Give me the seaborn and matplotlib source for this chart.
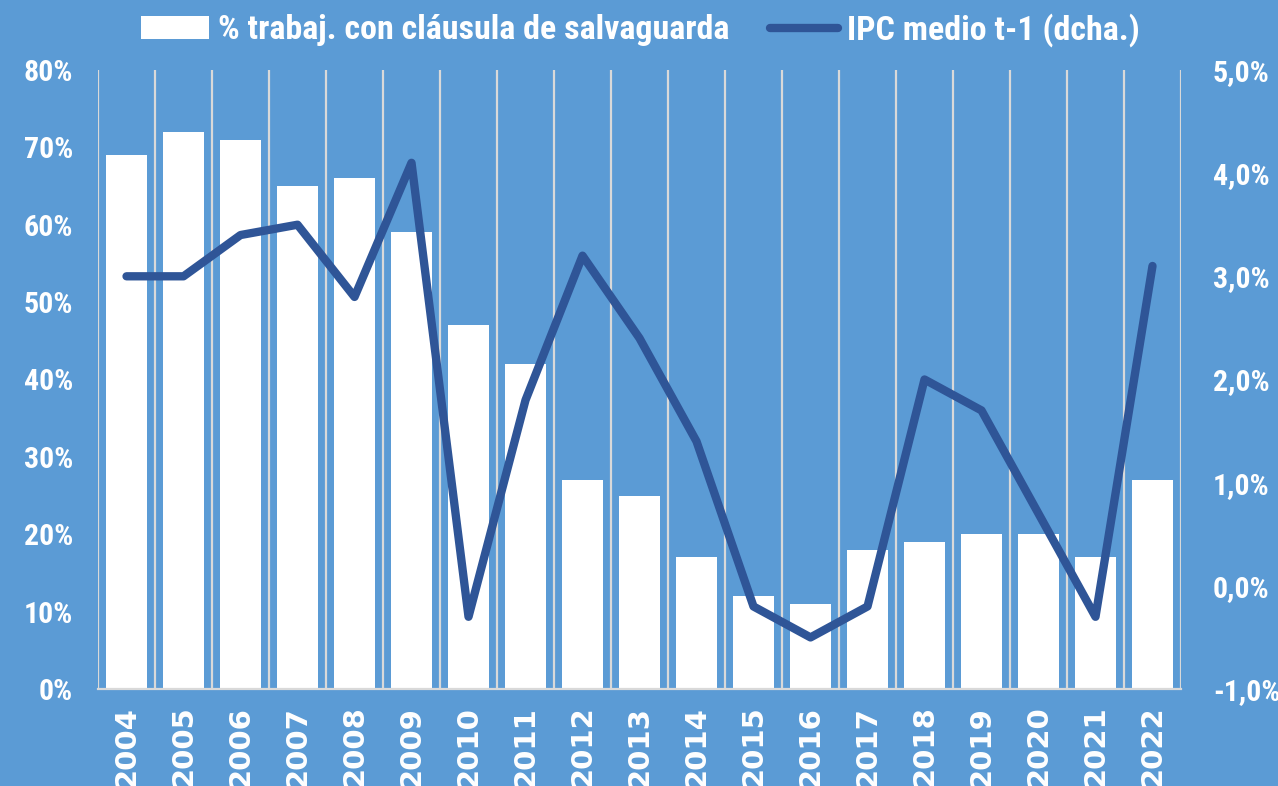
import matplotlib
matplotlib.use("Agg")
import matplotlib.pyplot as plt
from matplotlib import font_manager
from matplotlib.patches import Patch
from matplotlib.lines import Line2D
from matplotlib.ticker import FuncFormatter, MultipleLocator
import seaborn as sns
import pandas as pd

# Data
years = [str(y) for y in range(2004, 2023)]
pct_salvaguarda = [69, 72, 71, 65, 66, 59, 47, 42, 27, 25, 17, 12, 11, 18, 19, 20, 20, 17, 27]
ipc_medio_t1 = [3.0, 3.0, 3.4, 3.5, 2.8, 4.1, -0.3, 1.8, 3.2, 2.4, 1.4, -0.2, -0.5, -0.2, 2.0, 1.7, 0.7, -0.3, 3.1]
label_bars = "% trabaj. con cláusula de salvaguarda"
label_line = "IPC medio t-1 (dcha.)"

BG = "#5B9BD5"
LINE = "#2F5597"
GRID = "#D9D9D9"

sns.set_theme(style="white")
available = {f.name for f in font_manager.fontManager.ttflist}
narrow = next((f for f in ["Liberation Sans Narrow", "Roboto Condensed", "DejaVu Sans"] if f in available), "DejaVu Sans")
plt.rcParams["font.family"] = [narrow, "DejaVu Sans"]

df = pd.DataFrame({"year": years, "pct": pct_salvaguarda, "ipc": ipc_medio_t1})

fig = plt.figure(figsize=(12.78, 7.86), dpi=100, facecolor=BG)
ax = fig.add_axes([0.0767, 0.1234, 0.8474, 0.7876])
ax.set_facecolor(BG)

sns.barplot(data=df, x="year", y="pct", order=years, color="white", width=0.72,
            saturation=1, edgecolor="none", ax=ax, zorder=2)

# category boundaries as vertical gridlines
n = len(years)
ax.set_xticks([i - 0.5 for i in range(n + 1)], minor=True)
ax.grid(False)
ax.grid(True, which="minor", axis="x", color=GRID, linewidth=1.6, zorder=0)
ax.set_axisbelow(True)
ax.set_xlim(-0.5, n - 0.5)
ax.set_ylim(0, 80)
ax.yaxis.set_major_locator(MultipleLocator(10))
ax.yaxis.set_major_formatter(FuncFormatter(lambda v, p: f"{v:.0f}%"))
ax.tick_params(axis="y", length=0, pad=18, labelsize=21.5, labelcolor="white")
ax.tick_params(axis="x", which="both", length=0, pad=12)
for lab in ax.get_yticklabels():
    lab.set_fontweight("bold")
ax.set_xticks(range(n))
ax.set_xticklabels(years, rotation=90, fontsize=21, fontweight="bold", color="white",
                   family="DejaVu Sans", va="top")
ax.set_xlabel("")
ax.set_ylabel("")
for side in ["top", "left", "right"]:
    ax.spines[side].set_visible(False)
ax.spines["bottom"].set_color(GRID)
ax.spines["bottom"].set_linewidth(1.6)

ax2 = ax.twinx()
ax2.set_facecolor("none")
sns.pointplot(data=df, x="year", y="ipc", order=years, color=LINE, marker="",
              linewidth=6, ax=ax2)
for ln in ax2.get_lines():
    ln.set_solid_joinstyle("round")
    ln.set_solid_capstyle("round")
ax2.set_xlim(-0.5, n - 0.5)
ax2.set_ylim(-1, 5)
ax2.yaxis.set_major_locator(MultipleLocator(1))
ax2.yaxis.set_major_formatter(FuncFormatter(lambda v, p: f"{v:.1f}%".replace(".", ",")))
ax2.tick_params(axis="y", length=0, pad=23, labelsize=21.5, labelcolor="white")
for lab in ax2.get_yticklabels():
    lab.set_fontweight("bold")
ax2.set_xlabel("")
ax2.set_ylabel("")
ax2.grid(False)
for side in ax2.spines:
    ax2.spines[side].set_visible(False)

handles = [Patch(facecolor="white", edgecolor="none"),
           Line2D([0], [0], color=LINE, linewidth=6, solid_capstyle="round")]
fig.legend(handles, [label_bars, label_line], loc="center", bbox_to_anchor=(0.501, 0.962),
           ncol=2, frameon=False, handlelength=2.0, handleheight=0.67,
           handletextpad=0.25, columnspacing=1.2, prop={"weight": "bold", "size": 24.5},
           labelcolor="white")

fig.savefig("out.png", dpi=100, facecolor=BG)
